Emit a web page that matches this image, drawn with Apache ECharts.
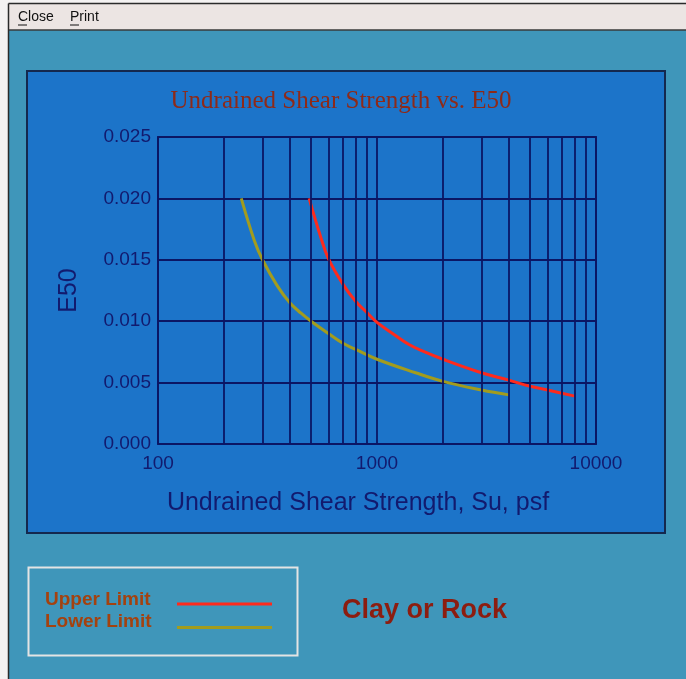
<!DOCTYPE html>
<html>
<head>
<meta charset="utf-8">
<script src="https://cdn.jsdelivr.net/npm/echarts@6/dist/echarts.min.js"></script>
<style>
  html, body { margin: 0; padding: 0; background: #3f96ba; }
  #chart { width: 686px; height: 679px; }
</style>
</head>
<body>
<div id="chart"></div>
<script>
// Su (psf) vs. E50 limits
const suUpper = [490, 550, 600, 700, 800, 900, 1000, 1200, 1400, 1600, 2000, 3000, 4000, 5000, 6000, 8000];
const e50Upper = [0.0200, 0.0170, 0.0151, 0.0130, 0.0116, 0.0107, 0.0099, 0.0089, 0.0081, 0.0076, 0.0069, 0.0058, 0.0052, 0.0047, 0.0044, 0.0039];
const suLower = [240, 275, 300, 350, 400, 450, 500, 600, 700, 800, 1000, 1500, 2000, 3000, 4000];
const e50Lower = [0.0200, 0.0166, 0.0150, 0.0129, 0.0115, 0.01065, 0.0100, 0.0090, 0.0082, 0.0077, 0.0069, 0.0058, 0.0051, 0.0044, 0.0040];

// log-cycle grid lines between the decades
const minorGridSu = [200, 300, 400, 500, 600, 700, 800, 900, 2000, 3000, 4000, 5000, 6000, 7000, 8000, 9000];
const xTickLabels = [100, 1000, 10000];

const NAVY = '#121a6e';
const GRID = '#0b1664';
const SANS = '"Liberation Sans", Arial, sans-serif';

const chart = echarts.init(document.getElementById('chart'));

const pairs = (xs, ys) => xs.map((x, i) => [x, ys[i]]);

chart.setOption({
  backgroundColor: '#3f96ba',
  animation: false,
  graphic: [
    // window frame and menu bar
    { type: 'rect', shape: { x: 0, y: 0, width: 686, height: 679 }, style: { fill: '#f4f2f2' }, z: -10 },
    { type: 'rect', shape: { x: 9, y: 4, width: 677, height: 675 }, style: { fill: '#3f96ba' }, z: -9 },
    { type: 'rect', shape: { x: 9, y: 4, width: 677, height: 26 }, style: { fill: '#ece5e3' }, z: -8 },
    { type: 'line', shape: { x1: 8.5, y1: 3.5, x2: 686, y2: 3.5 }, style: { stroke: '#2a2a2a', lineWidth: 1.5 } },
    { type: 'line', shape: { x1: 8.5, y1: 3.5, x2: 8.5, y2: 679 }, style: { stroke: '#2a2a2a', lineWidth: 1.5 } },
    { type: 'line', shape: { x1: 9, y1: 30, x2: 686, y2: 30 }, style: { stroke: '#3a3a3a', lineWidth: 1.5 } },
    { type: 'text', style: { x: 18, y: 17, text: 'Close', font: '14px ' + SANS, fill: '#111', verticalAlign: 'middle' } },
    { type: 'line', shape: { x1: 18, y1: 25, x2: 27, y2: 25 }, style: { stroke: '#111', lineWidth: 1 } },
    { type: 'text', style: { x: 70, y: 17, text: 'Print', font: '14px ' + SANS, fill: '#111', verticalAlign: 'middle' } },
    { type: 'line', shape: { x1: 70, y1: 25, x2: 79, y2: 25 }, style: { stroke: '#111', lineWidth: 1 } },

    // chart panel
    { type: 'rect', shape: { x: 27, y: 71, width: 638, height: 462 }, style: { fill: '#1c74c9', stroke: '#14284e', lineWidth: 2 }, z: -5 },
    { type: 'text', z: 5, style: { x: 341, y: 101, text: 'Undrained Shear Strength vs. E50', font: '25px "Liberation Serif", "Times New Roman", serif', fill: '#8e2a18', align: 'center', verticalAlign: 'middle' } },
    { type: 'text', z: 5, style: { x: 358, y: 503, text: 'Undrained Shear Strength, Su, psf', font: '25px ' + SANS, fill: NAVY, align: 'center', verticalAlign: 'middle' } },

    // legend box
    { type: 'rect', shape: { x: 28.5, y: 567.5, width: 269, height: 88 }, style: { fill: 'none', stroke: '#e4e4e4', lineWidth: 2 } },
    { type: 'text', style: { x: 45, y: 600, text: 'Upper Limit', font: 'bold 19px ' + SANS, fill: '#a4420f', verticalAlign: 'middle' } },
    { type: 'text', style: { x: 45, y: 622, text: 'Lower Limit', font: 'bold 19px ' + SANS, fill: '#a4420f', verticalAlign: 'middle' } },
    { type: 'line', shape: { x1: 177, y1: 604, x2: 272, y2: 604 }, style: { stroke: '#ff2a1c', lineWidth: 3 } },
    { type: 'line', shape: { x1: 177, y1: 627.5, x2: 272, y2: 627.5 }, style: { stroke: '#a29c1e', lineWidth: 3 } },
    { type: 'text', style: { x: 342, y: 611, text: 'Clay or Rock', font: 'bold 27px ' + SANS, fill: '#8c1d10', verticalAlign: 'middle' } }
  ],
  grid: {
    left: 158, top: 137, width: 438, height: 307,
    show: true, borderColor: GRID, borderWidth: 1.8, backgroundColor: 'transparent'
  },
  xAxis: {
    type: 'log', logBase: 10, min: 100, max: 10000,
    axisLine: { show: false },
    axisTick: { show: false },
    axisLabel: {
      color: NAVY, fontSize: 19, margin: 10, fontFamily: SANS,
      formatter: v => (xTickLabels.indexOf(Math.round(v)) >= 0 ? String(Math.round(v)) : '')
    },
    splitLine: { show: true, lineStyle: { color: GRID, width: 1.8 } }
  },
  yAxis: {
    type: 'value', min: 0, max: 0.025, interval: 0.005,
    name: 'E50', nameLocation: 'middle', nameGap: 76, nameRotate: 90,
    nameTextStyle: { color: NAVY, fontSize: 25, fontFamily: SANS },
    axisLine: { show: false },
    axisTick: { show: false },
    axisLabel: {
      color: NAVY, fontSize: 19, margin: 7, fontFamily: SANS,
      formatter: v => v.toFixed(3)
    },
    splitLine: { show: true, lineStyle: { color: GRID, width: 1.8 } }
  },
  series: [
    {
      name: 'Upper Limit', type: 'line', smooth: 0.4, showSymbol: false,
      data: pairs(suUpper, e50Upper),
      lineStyle: { color: '#ff2a1c', width: 3 }, z: 4,
      markLine: {
        silent: true, symbol: ['none', 'none'], label: { show: false },
        lineStyle: { color: GRID, width: 1.8, type: 'solid' },
        data: minorGridSu.map(v => ({ xAxis: v }))
      }
    },
    {
      name: 'Lower Limit', type: 'line', smooth: 0.4, showSymbol: false,
      data: pairs(suLower, e50Lower),
      lineStyle: { color: '#a29c1e', width: 3 }, z: 4
    }
  ]
});
</script>
</body>
</html>
